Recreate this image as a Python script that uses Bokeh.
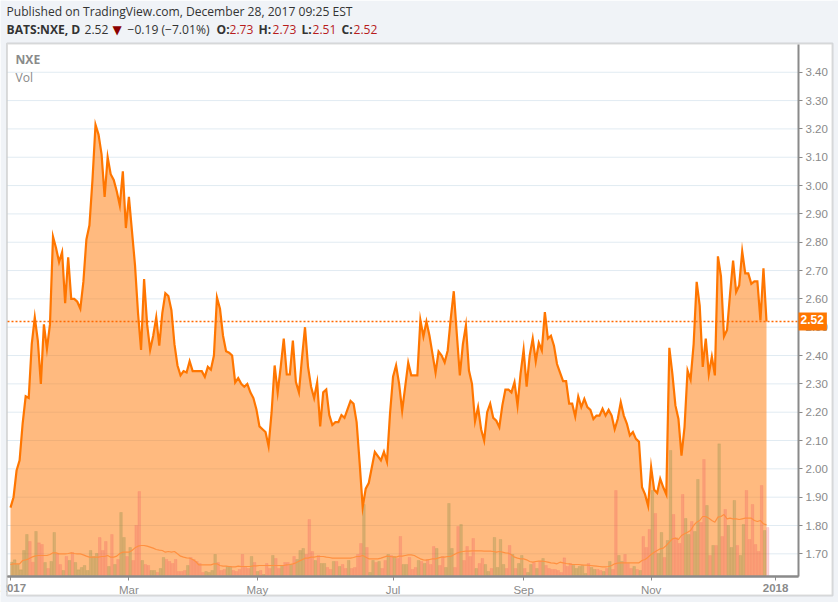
from bokeh.plotting import figure
from bokeh.models import Range1d, FixedTicker, Label, ColumnDataSource, LinearAxis, BoxAnnotation
from bokeh.embed import file_html
from bokeh.resources import INLINE

title_line = "Published on TradingView.com, December 28, 2017 09:25 EST"
last_price = 2.52
price_ticks = [1.7, 1.8, 1.9, 2.0, 2.1, 2.2, 2.3, 2.4, 2.5, 2.6, 2.7, 2.8, 2.9, 3.0, 3.1, 3.2, 3.3, 3.4]
month_tick_pos = [39, 81.3, 126, 169, 211]
month_tick_labels = ["Mar", "May", "Jul", "Sep", "Nov"]
year_tick_pos = [0, 252]
year_tick_labels = ["2017", "2018"]

price = [
    1.863, 1.90, 1.994, 2.03, 2.16, 2.256, 2.25, 2.44, 2.535, 2.453,
    2.30, 2.51, 2.424, 2.51, 2.82, 2.78, 2.73, 2.765, 2.585, 2.747,
    2.60, 2.60, 2.59, 2.565, 2.66, 2.81, 2.86, 3.02, 3.215, 3.18,
    3.11, 2.96, 3.10, 3.04, 3.02, 2.98, 2.93, 3.05, 2.85, 2.96,
    2.84, 2.72, 2.55, 2.42, 2.67, 2.51, 2.42, 2.47, 2.535, 2.435,
    2.55, 2.62, 2.61, 2.56, 2.44, 2.365, 2.33, 2.345, 2.34, 2.38,
    2.345, 2.345, 2.345, 2.345, 2.325, 2.36, 2.35, 2.40, 2.605, 2.565,
    2.47, 2.415, 2.41, 2.40, 2.305, 2.32, 2.30, 2.29, 2.30, 2.27,
    2.25, 2.21, 2.15, 2.14, 2.13, 2.08, 2.20, 2.365, 2.27, 2.36,
    2.46, 2.333, 2.333, 2.453, 2.306, 2.27, 2.39, 2.50, 2.36, 2.29,
    2.25, 2.305, 2.15, 2.27, 2.28, 2.19, 2.155, 2.165, 2.165, 2.19,
    2.18, 2.21, 2.24, 2.23, 2.165, 2.02, 1.865, 1.93, 1.95, 2.005,
    2.06, 2.045, 2.03, 2.06, 2.025, 2.195, 2.325, 2.365, 2.30, 2.205,
    2.29, 2.375, 2.33, 2.33, 2.33, 2.525, 2.467, 2.52, 2.47, 2.405,
    2.34, 2.414, 2.40, 2.376, 2.418, 2.53, 2.627, 2.476, 2.33, 2.44,
    2.506, 2.347, 2.30, 2.168, 2.218, 2.14, 2.10, 2.20, 2.23, 2.18,
    2.17, 2.147, 2.224, 2.28, 2.28, 2.27, 2.306, 2.224, 2.336, 2.42,
    2.29, 2.40, 2.46, 2.38, 2.445, 2.418, 2.553, 2.46, 2.47, 2.435,
    2.37, 2.34, 2.31, 2.31, 2.23, 2.23, 2.185, 2.255, 2.218, 2.247,
    2.218, 2.208, 2.176, 2.188, 2.188, 2.212, 2.188, 2.208, 2.188, 2.14,
    2.176, 2.235, 2.188, 2.16, 2.118, 2.13, 2.106, 2.096, 1.935, 1.91,
    1.87, 2.006, 1.926, 1.915, 1.965, 1.935, 1.91, 2.427, 2.335, 2.224,
    2.176, 2.047, 2.147, 2.347, 2.315, 2.44, 2.66, 2.576, 2.36, 2.46,
    2.335, 2.396, 2.33, 2.75, 2.68, 2.467, 2.49, 2.618, 2.735, 2.624,
    2.647, 2.768, 2.69, 2.69, 2.653, 2.662, 2.662, 2.524, 2.708, 2.52,
]

volume = [
    40, 47, 33, 17, 75, 123, 102, 40, 132, 98,
    93, 39, 21, 42, 129, 65, 33, 15, 57, 45,
    69, 39, 17, 24, 30, 15, 75, 57, 66, 114,
    75, 102, 27, 123, 33, 48, 189, 114, 57, 84,
    45, 150, 252, 45, 33, 30, 15, 15, 9, 21,
    54, 48, 42, 36, 48, 12, 12, 15, 30, 54,
    48, 42, 36, 9, 12, 9, 15, 63, 39, 15,
    18, 27, 27, 15, 12, 18, 63, 24, 21, 57,
    39, 12, 15, 3, 36, 21, 60, 51, 21,
    30, 39, 39, 33, 57, 48, 75, 81, 63, 168,
    72, 45, 60, 36, 36, 24, 18, 42, 42, 27,
    33, 21, 45, 21, 24, 63, 96, 213, 84, 9,
    45, 39, 42, 21, 45, 63, 60, 57, 51, 117,
    33, 33, 54, 18, 24, 45, 42, 36, 48, 33,
    87, 81, 30, 57, 24, 216, 81, 24, 147, 153,
    45, 87, 57, 111, 21, 36, 51, 33, 12, 21,
    114, 24, 108, 33, 21, 90, 63, 21, 36, 60,
    21, 9, 33, 39, 21, 42, 51, 30, 21, 18,
    18, 15,
    9, 53, 27, 36, 30, 21, 27, 30, 6, 36,
    24, 18, 18, 15, 12, 21, 42, 18, 255, 60,
    42, 63, 36, 21, 27, 18, 15, 117, 84, 138,
    255, 186, 66, 129, 54, 105, 375, 183, 113, 96,
    243, 171, 123, 162, 132, 288, 159, 348, 210, 60,
    90, 90, 395, 117, 198, 150, 84, 225, 90, 60,
    153, 255, 108, 213, 93, 72, 270, 135, 144,
]

volume_dir = list((
    "uuuuu uddud duduu ddudu duuuu uuuud ddudu duudu dddud duudu "
    "uddddddd ud dddd uuuudd duuddd dddu dudud dudd "
    "uddud uuudd duduu ddudu ddudd ddudu ududd ududd uuddd ududd "
    "duddu uuddu ddddu dduud uuuud duduu duudu duddd dd "
    "ddddu uuuud uuddu duddu udddu duddd uduud uuddd duudu uddud "
    "ududd uuudu udddd ddud"
).replace(" ", ""))

volume_ma = [
    33, 35, 35, 35, 45, 47, 50, 55, 58, 60,
    60, 60, 60, 63, 68, 68, 65, 65, 65, 66,
    68, 66, 65, 65, 62, 58, 55, 55, 55, 55,
    57, 57, 60, 55, 55, 58, 66, 70, 70, 70,
    75, 83, 88, 90, 90, 88, 85, 82, 78, 76,
    75, 70, 72, 70, 72, 65, 58, 55, 53, 52,
    48, 42, 32, 32, 32, 32, 32, 35, 35, 30,
    28, 28, 27, 26, 26, 28, 27, 27, 27, 27,
    29, 29, 30, 30, 30, 30, 30, 30, 30,
    30, 30, 32, 33, 35, 38, 43, 47, 52, 52,
    55, 55, 57, 57, 57, 55, 54, 52, 52, 52,
    52, 52, 52, 52, 54, 57, 57, 60, 55, 50,
    50, 50, 50, 52, 55, 58, 57, 56, 55, 58,
    58, 60, 62, 62, 60, 55, 50, 47, 46, 48,
    50, 50, 53, 55, 55, 57, 57, 62, 67, 70,
    72, 73, 73, 74, 74, 74, 74, 73, 73, 73,
    72, 70, 72, 70, 68, 67, 62, 55, 52, 50,
    50, 47, 42, 40, 42, 43, 43, 42, 40, 38,
    37, 35,
    40, 38, 36, 35, 33, 33, 33, 32, 31, 31,
    30, 29, 28, 27, 26, 26, 27, 30, 35, 37,
    38, 38, 38, 38, 38, 38, 38, 45, 48, 55,
    63, 70, 75, 80, 82, 90, 100, 110, 112, 108,
    120, 125, 130, 135, 150, 160, 165, 177, 177, 172,
    165, 160, 175, 177, 183, 170, 172, 170, 170, 168,
    170, 172, 172, 172, 165, 162, 165, 155, 152,
]

N = len(price)
assert len(volume) == N and len(volume_dir) == N and len(volume_ma) == N, (N, len(volume), len(volume_dir), len(volume_ma))

days = list(range(N))
W, H = 838, 602
PX = (766 - 10) / (N - 1)       # pixels per trading day
PY = 532 / (3.498 - 1.62)       # pixels per price unit
PLOT_L, PLOT_R, PLOT_T, PLOT_B = 7, 798, 44, 576
X_L, X_R = (PLOT_L - 10) / PX, (PLOT_R - 10) / PX
Y_B, Y_T = 1.62, 3.498
BG = "#f0f3f7"
GREY = "#8a8a8a"

# The canvas-wide frame holds everything: header, plot and axis strips.
p = figure(
    width=W, height=H, output_backend="svg", toolbar_location=None,
    x_range=Range1d(-10 / PX, (W - 10) / PX),
    y_range=Range1d(Y_B - (H - PLOT_B) / PY, Y_T + PLOT_T / PY),
    x_axis_location=None, y_axis_location=None,
    min_border_left=0, min_border_right=0, min_border_top=0, min_border_bottom=0,
    background_fill_color="white", border_fill_color=BG, outline_line_color=None,
)
p.extra_y_ranges["vol"] = Range1d(-81, 1725)
p.xgrid.visible = False
p.ygrid.visible = False


def box(left, right, top, bottom, **kw):
    p.add_layout(BoxAnnotation(
        left=left, right=right, top=H - top, bottom=H - bottom,
        left_units="screen", right_units="screen", top_units="screen", bottom_units="screen",
        **kw))


def text(x, y, s, color="#333333", size="12.1px", style="normal", font="Open Sans", align="left", **kw):
    p.add_layout(Label(
        x=x, y=H - y, x_units="screen", y_units="screen", text=s,
        text_color=color, text_font_size=size, text_font_style=style, text_font=font,
        text_baseline="middle", text_align=align, **kw))


def style_axis(ax):
    ax.axis_line_color = GREY
    ax.axis_line_width = 2
    ax.major_tick_line_color = GREY
    ax.major_tick_in = 0
    ax.major_tick_out = 4
    ax.minor_tick_line_color = None
    ax.major_label_text_color = GREY
    ax.major_label_text_font = "Liberation Sans"
    ax.major_label_text_font_size = "11.5px"
    ax.major_label_standoff = 3
    return ax


# surrounding page colour
box(0, W, 0, 43, fill_color=BG, fill_alpha=1, line_color=None, level="underlay")
box(832, W, 0, H, fill_color=BG, fill_alpha=1, line_color=None, level="underlay")
box(0, W, 595, H, fill_color=BG, fill_alpha=1, line_color=None, level="underlay")

# grid
p.segment(x0=[X_L] * len(price_ticks), x1=[X_R] * len(price_ticks), y0=price_ticks, y1=price_ticks,
          line_color="#e1ebf2", line_width=1)

base = [Y_B] * N
p.varea(x=days, y1=base, y2=price, fill_color="#ff7600", fill_alpha=0.5)

bars = ColumnDataSource(dict(
    x=[d + 0.4 for d in days], top=volume,
    color=["#64823c" if d == "u" else "#eb4d5c" for d in volume_dir],
))
p.vbar(x="x", top="top", bottom=0, width=0.85, source=bars, y_range_name="vol",
       fill_color="color", fill_alpha=0.24, line_color="color", line_alpha=0.12, line_width=1)
p.line(days, volume_ma, y_range_name="vol", line_color="#ff9040", line_width=1.2)
p.line(days, price, line_color="#ff7600", line_width=2.2, line_join="miter")
p.line([X_L, X_R], [last_price, last_price], line_color="#ff6a00", line_width=1.5, line_dash=[2, 2])

# axes (fixed_location keeps them inside the canvas-wide frame)
yax = style_axis(LinearAxis(fixed_location=X_R, bounds=(Y_B, Y_T), ticker=FixedTicker(ticks=price_ticks)))
yax.major_label_overrides = {v: f"{v:.2f}" for v in price_ticks}
p.add_layout(yax, "right")

xax = style_axis(LinearAxis(fixed_location=Y_B, bounds=(X_L, X_R), ticker=FixedTicker(ticks=month_tick_pos)))
xax.major_label_overrides = dict(zip(month_tick_pos, month_tick_labels))
p.add_layout(xax, "below")

xax2 = style_axis(LinearAxis(fixed_location=Y_B, bounds=(X_L, X_R), ticker=FixedTicker(ticks=year_tick_pos)))
xax2.major_label_overrides = dict(zip(year_tick_pos, year_tick_labels))
xax2.major_label_text_font_style = "bold"
p.add_layout(xax2, "below")

# left strip hides the start of the first year label; outer frame on top
box(0, 6, 0, H, fill_color=BG, fill_alpha=1, line_color=None, level="overlay")
box(6.5, 832, 43, 595, fill_alpha=0, line_color=GREY, line_width=2, level="overlay")

text(15, 59, "NXE", color=GREY, style="bold")
text(15, 77, "Vol", color=GREY)

text(798, 321, f"{last_price:.2f}", color="white", style="bold", font="Liberation Sans",
     size="12px", background_fill_color="#ff7600", padding=(2, 3, 2, 7))

text(6, 11, title_line)
RED = "#b71c1c"
text(6, 29, "BATS:NXE, D", style="bold")
text(84, 29, "2.52")
text(112, 29, "\u25bc", color="#8b0000", font="DejaVu Sans", size="12px")
text(127, 29, "\u22120.19 (\u22127.01%)")
for x, s in [(216, "O:"), (258, "H:"), (301, "L:"), (341, "C:")]:
    text(x, 29, s, style="bold")
for x, s in [(229, "2.73"), (272, "2.73"), (312, "2.51"), (353, "2.52")]:
    text(x, 29, s, color=RED)

open("out.html", "w").write(file_html(p, INLINE))
